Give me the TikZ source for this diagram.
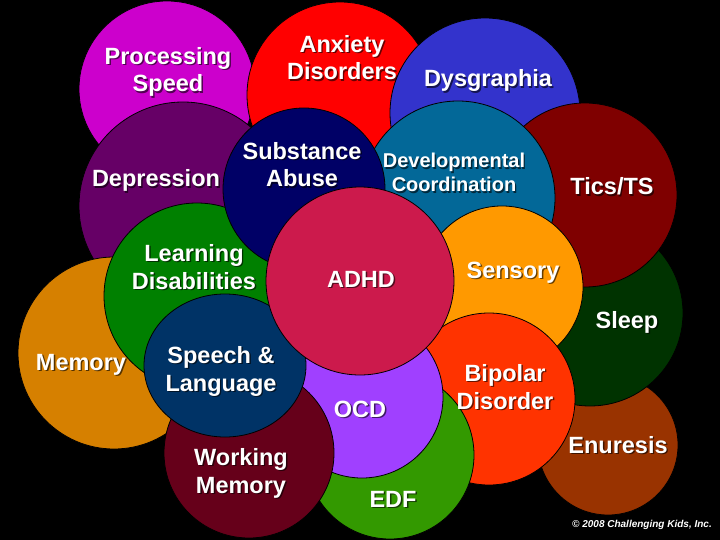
\documentclass[tikz,border=0pt]{standalone}
\usepackage{fontspec}
\setmainfont{Liberation Sans}
\usetikzlibrary{shapes.geometric}
\definecolor{cProc}{HTML}{CC00CC}
\definecolor{cAnx}{HTML}{FF0000}
\definecolor{cDysg}{HTML}{3333CC}
\definecolor{cTics}{HTML}{7F0000}
\definecolor{cDev}{HTML}{036898}
\definecolor{cSubst}{HTML}{000066}
\definecolor{cDepr}{HTML}{660066}
\definecolor{cLD}{HTML}{008000}
\definecolor{cMem}{HTML}{D68000}
\definecolor{cSpeech}{HTML}{003366}
\definecolor{cWM}{HTML}{66001A}
\definecolor{cOCD}{HTML}{A040FF}
\definecolor{cEDF}{HTML}{339900}
\definecolor{cBip}{HTML}{FF3300}
\definecolor{cSens}{HTML}{FF9900}
\definecolor{cSleep}{HTML}{003300}
\definecolor{cEnur}{HTML}{993300}
\definecolor{cADHD}{HTML}{CC1A4C}
\tikzset{
  blob/.style={circle, draw=black, line width=0.8pt, inner sep=0pt},
  oval/.style={ellipse, draw=black, line width=0.8pt, inner sep=0pt},
  lbl/.style={text=white, align=center, anchor=base, inner sep=0pt,
    font=\fontsize{23.5}{27.5}\selectfont\bfseries},
  lblsmall/.style={font=\fontsize{20}{24}\selectfont\bfseries},
  txtshadow/.style={text=black, text opacity=0.6, xshift=1.4pt, yshift=-1.4pt},
  credit/.style={text=white, anchor=base east, inner sep=0pt,
    font=\fontsize{10}{12}\selectfont\bfseries\itshape}
}
\newcommand\shlabel[4][]{%
  \node[lbl,#1,txtshadow] at #3 {#4};
  \node[lbl,#1] (#2) at #3 {#4};}
\begin{document}
\begin{tikzpicture}[x=1pt,y=-1pt]
\fill[black] (0,0) rectangle (720,540);
\useasboundingbox (0,0) rectangle (720,540);
% circles, back to front
\node[blob, fill=cProc,  minimum size=176pt] (proc)   at (167,89)  {};
\node[blob, fill=cAnx,   minimum size=186pt] (anx)    at (340,95)  {};
\node[blob, fill=cDysg,  minimum size=190pt] (dysg)   at (485,113) {};
\node[blob, fill=cEnur,  minimum size=140pt] (enur)   at (608,445) {};
\node[blob, fill=cSleep, minimum size=186pt] (sleep)  at (590,313) {};
\node[blob, fill=cTics,  minimum size=184pt] (tics)   at (585,195) {};
\node[blob, fill=cDev,   minimum size=194pt] (dev)    at (458,198) {};
\node[blob, fill=cDepr,  minimum size=208pt] (depr)   at (183,206) {};
\node[blob, fill=cMem,   minimum size=192pt] (mem)    at (114,353) {};
\node[blob, fill=cLD,    minimum size=186pt] (ld)     at (197,296) {};
\node[blob, fill=cSubst, minimum size=162pt] (subst)  at (304,189) {};
\node[blob, fill=cSens,  minimum size=162pt] (sens)   at (502,287) {};
\node[blob, fill=cBip,   minimum size=172pt] (bip)    at (489,399) {};
\node[blob, fill=cEDF,   minimum size=168pt] (edf)    at (390,455) {};
\node[blob, fill=cOCD,   minimum size=162pt] (ocd)    at (362,397) {};
\node[blob, fill=cWM,    minimum size=170pt] (wm)     at (249,453) {};
\node[oval, fill=cSpeech, minimum width=162pt, minimum height=143pt] (speech) at (225,365.5) {};
\node[blob, fill=cADHD,  minimum size=188pt] (adhd)   at (360,281) {};
% labels (multi-line labels are placed by the baseline of their last line)
\shlabel{tProc}{(168,92)}{Processing\\Speed}
\shlabel{tAnx}{(342,80)}{Anxiety\\Disorders}
\shlabel{tDysg}{(488,87)}{Dysgraphia}
\shlabel{tSubst}{(302,187)}{Substance\\Abuse}
\shlabel{tDepr}{(156,187)}{Depression}
\shlabel[lblsmall]{tDev}{(454,192)}{Developmental\\Coordination}
\shlabel{tTics}{(612,195)}{Tics/TS}
\shlabel{tLD}{(194,289)}{Learning\\Disabilities}
\shlabel{tADHD}{(361,287)}{ADHD}
\shlabel{tSens}{(513,278)}{Sensory}
\shlabel{tMem}{(81,370)}{Memory}
\shlabel{tSpeech}{(221,391)}{Speech \&\\Language}
\shlabel{tSleep}{(627,328)}{Sleep}
\shlabel{tOCD}{(360,417)}{OCD}
\shlabel{tBip}{(505,409)}{Bipolar\\Disorder}
\shlabel{tWM}{(241,493)}{Working\\Memory}
\shlabel{tEDF}{(393,507)}{EDF}
\shlabel{tEnur}{(618,453)}{Enuresis}
\node[credit] (copy) at (712,527) {© 2008 Challenging Kids, Inc.};
\end{tikzpicture}
\end{document}
